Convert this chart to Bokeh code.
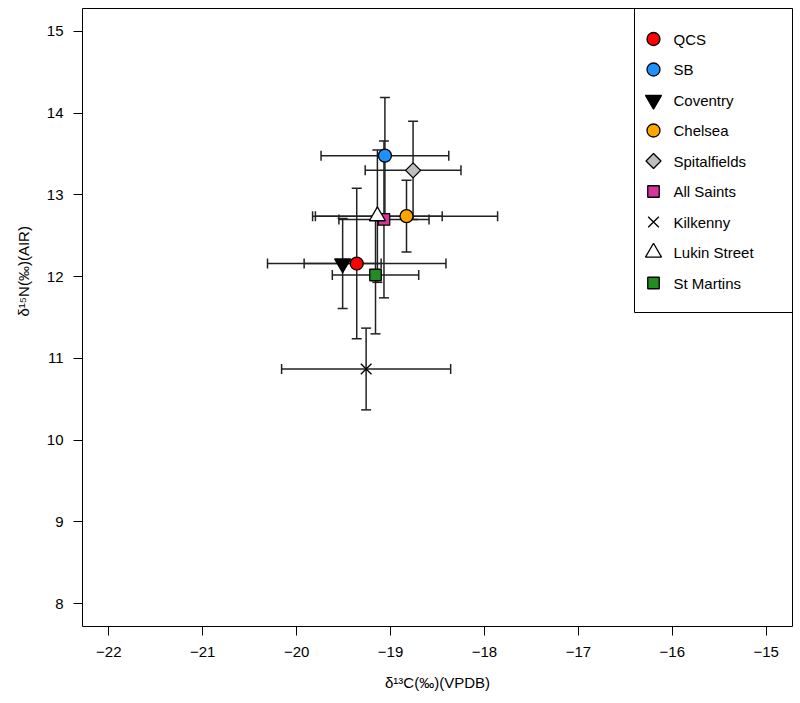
import numpy as np
from bokeh.plotting import figure
from bokeh.models import (ColumnDataSource, Whisker, TeeHead, FixedTicker,
                          Range1d, Title, BoxAnnotation)
from bokeh.core.properties import value
from bokeh.embed import file_html
from bokeh.resources import INLINE

# ---------------- data ----------------
sites = ["QCS", "SB", "Coventry", "Chelsea", "Spitalfields", "All Saints",
         "Kilkenny", "Lukin Street", "St Martins"]
d13c = [-19.36, -19.06, -19.51, -18.83, -18.76, -19.07, -19.26, -19.14, -19.16]
d13c_sd = [0.95, 0.68, 0.41, 0.97, 0.51, 0.48, 0.90, 0.69, 0.46]
d15n = [12.16, 13.48, 12.16, 12.74, 13.30, 12.70, 10.87, 12.74, 12.02]
d15n_sd = [0.92, 0.71, 0.55, 0.44, 0.60, 0.96, 0.50, 0.81, 0.72]

x_ticks = [-22, -21, -20, -19, -18, -17, -16, -15]
x_tick_labels = ["\u221222", "\u221221", "\u221220", "\u221219", "\u221218",
                 "\u221217", "\u221216", "\u221215"]
y_ticks = [8, 9, 10, 11, 12, 13, 14, 15]
y_tick_labels = ["8", "9", "10", "11", "12", "13", "14", "15"]

# ---------------- styles ----------------
markers = ["circle", "circle", "inverted_triangle", "circle", "square", "square",
           "x", "triangle", "square"]
fills = ["#FF0000", "#1E90FF", "#000000", "#FFA500", "#BEBEBE", "#D6349A",
         "#000000", "#FFFFFF", "#228B22"]
sizes = [13, 13, 16, 13, 10.6, 11.5, 15, 16, 11.5]
angles = [0, 0, 0, 0, np.pi / 4, 0, 0, 0, 0]

FONT = "Liberation Sans"

# axis ranges like R's default 4% extension
XLO, XHI = x_ticks[0] - 0.04 * (x_ticks[-1] - x_ticks[0]), x_ticks[-1] + 0.04 * (x_ticks[-1] - x_ticks[0])
YLO, YHI = y_ticks[0] - 0.04 * (y_ticks[-1] - y_ticks[0]), y_ticks[-1] + 0.04 * (y_ticks[-1] - y_ticks[0])

FRAME_W, FRAME_H = 710, 618
BL, BR, BT, BB = 82, 8, 8, 77
FL, FT = BL, BT


def px_x(px):
    return XLO + (px - FL) / FRAME_W * (XHI - XLO)


def px_y(py):
    return YHI - (py - FT) / FRAME_H * (YHI - YLO)


p = figure(frame_width=FRAME_W, frame_height=FRAME_H,
           min_border_left=BL, min_border_right=BR, min_border_top=BT,
           min_border_bottom=BB, x_range=Range1d(XLO, XHI), y_range=Range1d(YLO, YHI),
           output_backend="svg", toolbar_location=None)
p.grid.visible = False
p.outline_line_color = "black"
p.outline_line_width = 1
p.background_fill_color = "white"
p.border_fill_color = "white"

for ax, ticks, labels in ((p.xaxis, x_ticks, x_tick_labels), (p.yaxis, y_ticks, y_tick_labels)):
    ax.ticker = FixedTicker(ticks=ticks)
    ax.major_label_overrides = {t: l for t, l in zip(ticks, labels)}
    ax.axis_line_color = None
    ax.major_tick_out = 9
    ax.major_tick_in = 0
    ax.minor_tick_out = 0
    ax.minor_tick_in = 0
    ax.major_tick_line_color = "black"
    ax.major_label_text_font = FONT
    ax.major_label_text_font_size = "15px"
    ax.major_label_text_color = "black"
p.xaxis.major_label_standoff = 11
p.yaxis.major_label_standoff = 10

p.xaxis.axis_label = "\u03b4\u00b9\u00b3C(\u2030)(VPDB)"
p.xaxis.axis_label_text_font = FONT
p.xaxis.axis_label_text_font_size = "15px"
p.xaxis.axis_label_text_font_style = "normal"
p.xaxis.axis_label_text_color = "black"
p.xaxis.axis_label_standoff = 14

ytitle = Title(text="\u03b4\u00b9\u2075N(\u2030)(AIR)", align="left", offset=310,
               standoff=23, text_font=FONT, text_font_size="15px",
               text_font_style="normal", text_color="black")
p.add_layout(ytitle, "left")

src = ColumnDataSource(dict(
    x=d13c, y=d15n,
    xl=[a - b for a, b in zip(d13c, d13c_sd)], xu=[a + b for a, b in zip(d13c, d13c_sd)],
    yl=[a - b for a, b in zip(d15n, d15n_sd)], yu=[a + b for a, b in zip(d15n, d15n_sd)],
    marker=markers, fill=fills, size=sizes, angle=angles, site=sites))

bar_col = "#222222"
for dim, base, lo, hi in (("width", "y", "xl", "xu"), ("height", "x", "yl", "yu")):
    w = Whisker(source=src, base=base, lower=lo, upper=hi, dimension=dim,
                line_color=bar_col, line_width=1.5, level="underlay",
                upper_head=TeeHead(size=10, line_color=bar_col, line_width=1.5),
                lower_head=TeeHead(size=10, line_color=bar_col, line_width=1.5))
    p.add_layout(w)

p.scatter(x="x", y="y", marker="marker", size="size", angle="angle",
          fill_color="fill", line_color="black", line_width=1.3, source=src)

# ---------------- legend (R style box, top right) ----------------
leg_x = [px_x(653)] * len(sites)
leg_y = [px_y(38.5 + 30.5 * i) for i in range(len(sites))]
leg_src = ColumnDataSource(dict(x=leg_x, y=leg_y, tx=[px_x(673)] * len(sites),
                                marker=markers, fill=fills, size=sizes, angle=angles,
                                site=sites))
p.add_layout(BoxAnnotation(left=px_x(634), bottom=px_y(312), fill_alpha=0,
                           line_color="black", line_width=1, line_alpha=1))
p.scatter(x="x", y="y", marker="marker", size="size", angle="angle",
          fill_color="fill", line_color="black", line_width=1.3, source=leg_src)
p.text(x="tx", y="y", text="site", text_font=value(FONT), text_font_size="15px",
       text_baseline="middle", text_align="left", text_color="black", source=leg_src)

open("out.html", "w").write(file_html(p, INLINE))
